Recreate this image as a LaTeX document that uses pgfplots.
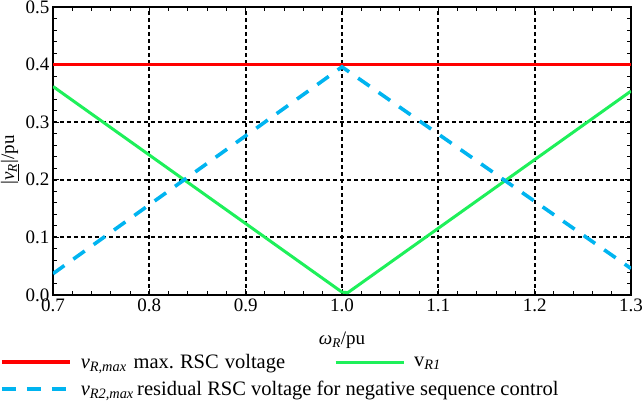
\documentclass[border=0pt]{standalone}
\usepackage{fontspec}
\setmainfont{Liberation Serif}
\usepackage{pgfplots}
\pgfplotsset{compat=1.18}
\definecolor{cred}{RGB}{255,0,0}
\definecolor{cgreen}{RGB}{30,240,90}
\definecolor{cblue}{RGB}{0,180,240}
\begin{document}
\begin{tikzpicture}
\begin{axis}[
  scale only axis, width=578pt, height=288pt,
  xmin=0.7, xmax=1.3, ymin=0, ymax=0.5,
  xtick={0.7,0.8,0.9,1.0,1.1,1.2,1.3},
  ytick={0,0.1,0.2,0.3,0.4,0.5},
  minor x tick num=4, minor y tick num=4,
  tick align=inside,
  major tick length=6pt, minor tick length=4pt,
  tick style={black, line width=0.9pt},
  /pgf/number format/.cd, fixed, fixed zerofill, precision=1, assume math mode=true, /pgfplots/.cd,
  ticklabel style={font=\fontsize{19}{19}\selectfont},
  label style={font=\fontsize{19}{19}\selectfont},
  grid=major,
  major grid style={black, line width=1.8pt, dash pattern=on 4pt off 3pt},
  axis line style={line width=1.2pt},
  xlabel={\textit{ω}\textsubscript{\textit{R}}/pu},
  xlabel style={yshift=-14pt},
  ylabel={|\underline{\textit{v}\textsubscript{\textit{R}}}|/pu},
  ylabel style={at={(ticklabel cs:0.469)}},
  legend image code/.code={\draw[#1] (0pt,0pt) -- (68pt,0pt);},
  legend style={at={(rel axis cs:-0.0917,-0.198)}, anchor=north west, draw=none, fill=none,
    legend columns=2, font=\fontsize{20.5}{22}\selectfont,
    /tikz/every odd column/.append style={column sep=7pt},
    /tikz/every even column/.append style={column sep=47pt},
    inner sep=0pt, row sep=7pt},
  legend cell align=left,
]
\addplot[cred, line width=3.2pt] coordinates {(0.7,0.4) (1.3,0.4)};
\addlegendentry{\textit{v}\textsubscript{\textit{R,max}}\hspace{7pt}max.\hspace{6pt}RSC\hspace{6pt}voltage}
\addplot[cgreen, line width=3pt] coordinates {(0.7,0.362) (1.0,0.005) (1.006,0.004) (1.3,0.354)};
\addlegendentry{v\textsubscript{\textit{R1}}}
\addplot[cblue, line width=3.6pt, dash pattern=on 14pt off 11pt] coordinates {(0.7,0.037) (1.0,0.396) (1.3,0.046)};
\addlegendentry{\rlap{\textit{v}\textsubscript{\textit{R2,max}}\,residual RSC voltage for negative sequence control}}
\end{axis}
\pgfresetboundingbox
\path ([xshift=-53pt,yshift=-106pt]current axis.south west) rectangle ([xshift=12pt,yshift=7pt]current axis.north east);
\end{tikzpicture}
\end{document}
